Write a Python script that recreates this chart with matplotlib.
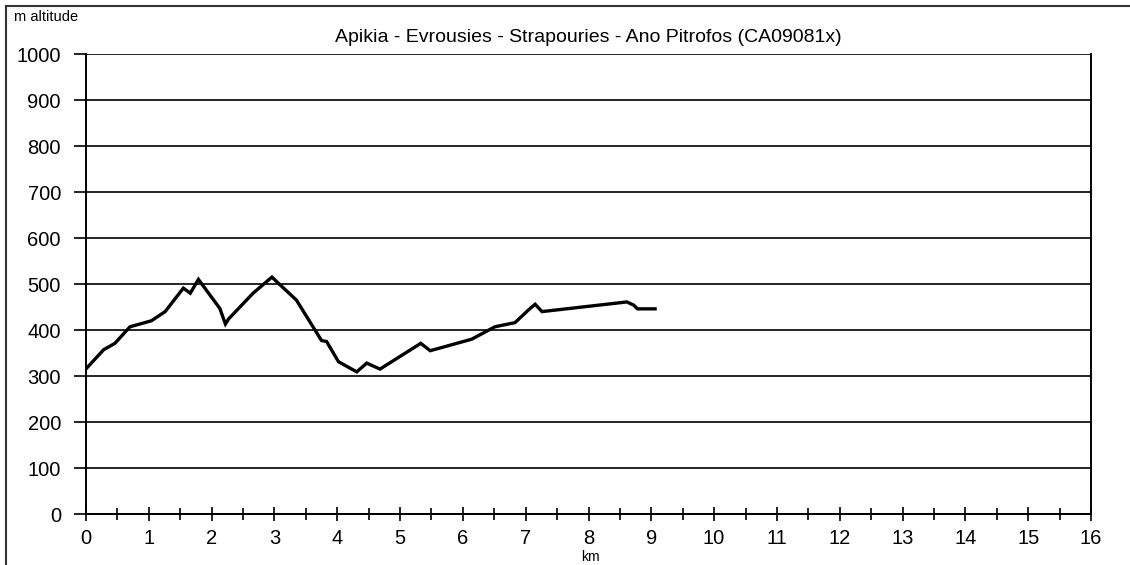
import matplotlib.pyplot as plt
from matplotlib.lines import Line2D

# elevation profile
km = [0.01, 0.28, 0.46, 0.70, 1.04, 1.26, 1.55, 1.66, 1.79, 2.13, 2.22, 2.27,
      2.66, 2.96, 3.06, 3.35, 3.75, 3.83, 4.02, 4.31, 4.47, 4.68, 5.33, 5.48,
      6.14, 6.51, 6.83, 7.04, 7.15, 7.26, 8.61, 8.72, 8.78, 9.06]
altitude = [317, 357, 371, 407, 420, 440, 491, 480, 510, 447, 413, 424,
            480, 515, 502, 465, 377, 375, 331, 309, 328, 315, 371, 355,
            380, 407, 416, 443, 456, 440, 461, 454, 446, 446]

x_ticks = list(range(0, 17))
y_ticks = list(range(0, 1001, 100))

plt.rcParams['font.family'] = ['Liberation Sans', 'DejaVu Sans']

fig = plt.figure(figsize=(11.3, 5.65), dpi=100)
ax = fig.add_axes([86 / 1130, 1 - 514 / 565, (1091 - 86) / 1130, (514 - 54) / 565])

ax.plot(km, altitude, color='black', lw=2.4, solid_joinstyle='miter')

ax.set_xlim(0, 16)
ax.set_ylim(0, 1000)
ax.set_xticks(x_ticks)
ax.set_xticks([t + 0.5 for t in x_ticks[:-1]], minor=True)
ax.set_yticks(y_ticks)
ax.grid(axis='y', color='black', lw=1.2)
ax.set_axisbelow(True)

ax.tick_params(axis='both', which='major', labelsize=14.5, width=1.2, color='black')
ax.tick_params(axis='x', which='major', length=10, direction='inout', pad=6)
ax.tick_params(axis='x', which='minor', length=8, width=1.2, direction='inout')
ax.tick_params(axis='y', which='major', length=9, direction='out', pad=9)

for s in ax.spines.values():
    s.set_linewidth(1.4)
    s.set_color('black')
ax.spines['top'].set_visible(False)

ax.set_title('Apikia - Evrousies - Strapouries - Ano Pitrofos (CA09081x)',
             fontsize=14, pad=9)

fig.text(14 / 1130, 1 - 17 / 565, 'm altitude', fontsize=10.5, va='center')
fig.text(590 / 1130, 1 - 557 / 565, 'km', fontsize=10, ha='center', va='center')

# outer frame of the picture
fig.add_artist(Line2D([6 / 1130, 6 / 1130], [0, 1 - 6 / 565], color='#333333', lw=1.5))
fig.add_artist(Line2D([6 / 1130, 1], [1 - 6 / 565, 1 - 6 / 565], color='#333333', lw=1.5))

fig.savefig('out.png', dpi=100)
